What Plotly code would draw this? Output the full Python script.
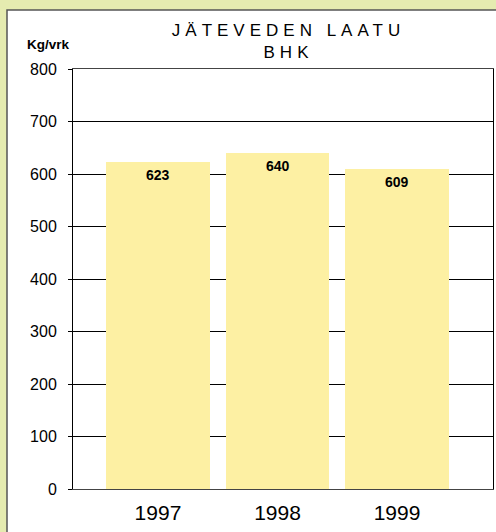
import plotly.graph_objects as go

years = ["1997", "1998", "1999"]
bhk = [623, 640, 609]
y_ticks = [0, 100, 200, 300, 400, 500, 600, 700, 800]

W, H = 496, 532
L, R, T, B = 73, 3, 69, 43
PW, PH = W - L - R, H - T - B

fig = go.Figure()
fig.add_trace(go.Bar(
    x=list(range(len(years))), y=bhk,
    marker=dict(color="#fdf0a3", line=dict(width=0)),
    width=0.87, hoverinfo="skip",
))

annotations = []
for i, v in enumerate(bhk):
    annotations.append(dict(
        x=i, y=v, xref="x", yref="y", text="<b>%d</b>" % v,
        showarrow=False, yanchor="middle", yshift=-13,
        font=dict(family="Liberation Sans, Arial, sans-serif", size=14, color="black"),
    ))
annotations.append(dict(
    x=-0.002, y=(489 - 45) / PH, xref="paper", yref="paper",
    text="<b>Kg/vrk</b>", showarrow=False, xanchor="right", yanchor="middle",
    font=dict(family="Liberation Sans, Arial, sans-serif", size=13.5, color="black"),
))

fig.update_layout(
    width=W, height=H,
    margin=dict(l=L, r=R, t=T, b=B, pad=0, autoexpand=False),
    paper_bgcolor="#e5ebb0",
    plot_bgcolor="rgba(0,0,0,0)",
    showlegend=False,
    bargap=0,
    title=dict(
        text='<span style="letter-spacing:5px">JÄTEVEDEN LAATU</span><br><span style="letter-spacing:5px">BHK</span>',
        x=(288.5 - L) / PW, xref="paper", xanchor="center",
        y=1 - 36 / H, yref="container", yanchor="top",
        font=dict(family="Liberation Sans, Arial, sans-serif", size=17, color="black"),
    ),
    annotations=annotations,
    shapes=[dict(
        type="rect", xref="paper", yref="paper", layer="below",
        x0=(7 - L) / PW, x1=1.2, y0=-0.3, y1=(489 - 10) / PH,
        fillcolor="white", line=dict(color="#555555", width=1.5),
    )],
    xaxis=dict(
        range=[-0.711, 2.803], automargin=False,
        tickmode="array", tickvals=list(range(len(years))), ticktext=years,
        ticks="", showgrid=False, zeroline=False,
        showline=True, linecolor="#444444", linewidth=1, mirror=True,
        tickfont=dict(family="Liberation Sans, Arial, sans-serif", size=21, color="black"),
        ticklabelstandoff=5,
    ),
    yaxis=dict(
        range=[0, 800], automargin=False,
        tickmode="array", tickvals=y_ticks, ticktext=[str(t) for t in y_ticks],
        ticks="outside", ticklen=4, tickcolor="black", tickwidth=1,
        showgrid=True, gridcolor="black", gridwidth=1, zeroline=False,
        showline=True, linecolor="black", linewidth=1, mirror=True,
        tickfont=dict(family="Liberation Sans, Arial, sans-serif", size=16, color="black"),
        ticklabelstandoff=8,
    ),
)

fig.write_html(
    "out.html",
    config={"displayModeBar": False},
    post_script="document.body.style.margin='0';document.body.style.overflow='hidden';",
)
